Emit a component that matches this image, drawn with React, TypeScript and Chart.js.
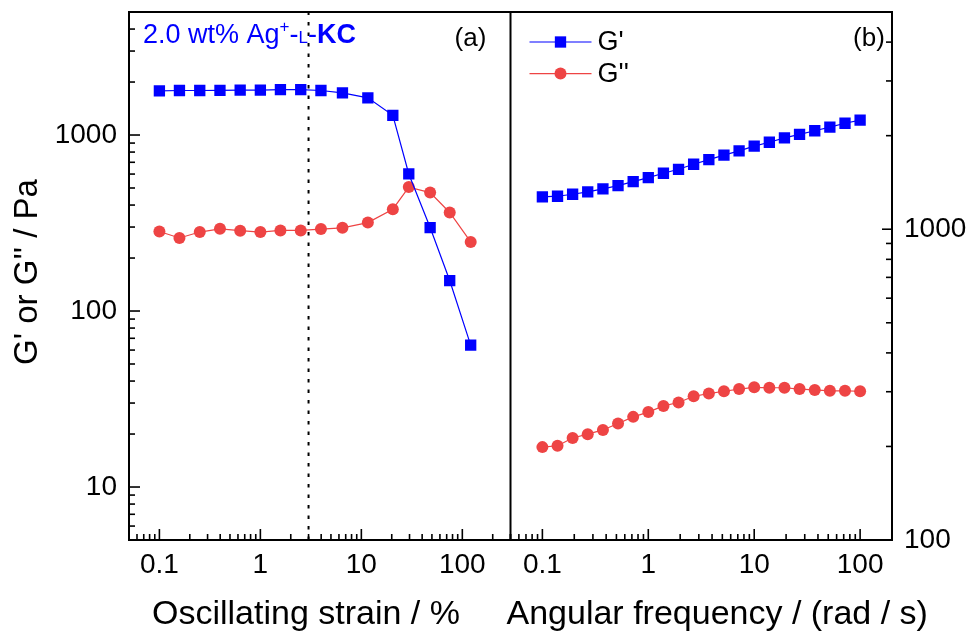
import React, { useEffect, useRef } from 'react';
import { Chart, registerables } from 'chart.js';

Chart.register(...registerables);

// ---------- data ----------
// (a) strain sweep
const strainPct = [0.1, 0.158, 0.251, 0.398, 0.631, 1, 1.58, 2.51, 3.98, 6.5, 11.6, 20.5, 29.5, 48, 75, 121];
const strainGp = [1780, 1790, 1790, 1795, 1800, 1800, 1810, 1810, 1790, 1737, 1626, 1293, 601, 298, 149, 64];
const strainGpp = [283, 260, 281, 293, 286, 281, 287, 287, 292, 297, 318, 379, 506, 471, 363, 247];
const yieldStrainX = [3, 3];
const yieldStrainY = [5, 5000];
// (b) frequency sweep
const freq = [0.1, 0.139, 0.193, 0.268, 0.373, 0.518, 0.72, 1, 1.39, 1.93, 2.68, 3.73, 5.18, 7.2, 10, 13.9, 19.3, 26.8, 37.3, 51.8, 72, 100];
const freqGp = [1270, 1277, 1296, 1318, 1348, 1381, 1423, 1465, 1514, 1559, 1618, 1675, 1731, 1786, 1850, 1905, 1967, 2020, 2074, 2132, 2193, 2245];
const freqGpp = [199, 201, 213, 219, 226, 237, 249, 258, 270, 277, 290, 296, 301, 306, 310, 309, 309, 306, 304, 302, 302, 301];

// ---------- axes / labels ----------
const strainRange = [0.05, 300];
const freqRange = [0.05, 200];
const modLeftRange = [5, 5000];
const modRightRange = [100, 5000];
const strainTickLabels = ['0.1', '1', '10', '100'];
const freqTickLabels = ['0.1', '1', '10', '100'];
const modLeftTickLabels = ['10', '100', '1000'];
const modRightTickLabels = ['100', '1000'];
const xTitleA = 'Oscillating strain / %';
const xTitleB = 'Angular frequency / (rad / s)';
const yTitle = "G' or G'' / Pa";
const panelA = '(a)';
const panelB = '(b)';
const seriesNames = ["G'", "G''"];
const sampleParts = ['2.0 wt% Ag', '+', '-', 'L', '-', 'KC'];

const FF = '"Liberation Sans", Arial, Helvetica, sans-serif';
const BLUE = '#0000FF';
const RED = '#EE4444';

const pts = (xs: number[], ys: number[]) => xs.map((x, i) => ({ x, y: ys[i] }));

function logTicks(min: number, max: number) {
  const out: { value: number }[] = [];
  for (let e = -3; e <= 4; e++) {
    for (let m = 1; m <= 9; m++) {
      const v = parseFloat((m * Math.pow(10, e)).toPrecision(6));
      if (v >= min * (1 - 1e-9) && v <= max * (1 + 1e-9)) out.push({ value: v });
    }
  }
  return out;
}
const isMajor = (v: number) => Math.abs(Math.log10(v) - Math.round(Math.log10(v))) < 1e-6;

const labelFrom = (labels: string[]) => (v: any) => {
  const s = labels.find((l) => Math.abs(parseFloat(l) - Number(v)) < 1e-9 * Math.max(1, Number(v)));
  return s ?? '';
};

const zeroPad = (s: any) => {
  s.paddingTop = 0;
  s.paddingBottom = 0;
  s.paddingLeft = 0;
  s.paddingRight = 0;
};

const decorPlugin = {
  id: 'decor',
  afterDraw(chart: any) {
    const { ctx, chartArea: ca, scales } = chart;
    const xa = scales.xa, xb = scales.xb, ya = scales.ya, yb = scales.yb;
    ctx.save();
    ctx.strokeStyle = '#000';
    // ticks (inward)
    ctx.lineWidth = 1.6;
    const seg = (x1: number, y1: number, x2: number, y2: number) => {
      ctx.beginPath();
      ctx.moveTo(x1, y1);
      ctx.lineTo(x2, y2);
      ctx.stroke();
    };
    for (const s of [xa, xb]) {
      for (const t of s.ticks) {
        const px = s.getPixelForValue(t.value);
        seg(px, ca.bottom, px, ca.bottom - (isMajor(t.value) ? 11 : 6));
      }
    }
    for (const t of ya.ticks) {
      const py = ya.getPixelForValue(t.value);
      seg(ca.left, py, ca.left + (isMajor(t.value) ? 11 : 6), py);
    }
    for (const t of yb.ticks) {
      const py = yb.getPixelForValue(t.value);
      seg(ca.right, py, ca.right - (isMajor(t.value) ? 10 : 6), py);
    }
    // frame + divider
    ctx.lineWidth = 2;
    ctx.strokeRect(ca.left, ca.top, ca.right - ca.left, ca.bottom - ca.top);
    seg(xa.right, ca.top, xa.right, ca.bottom);

    // axis titles
    ctx.fillStyle = '#000';
    ctx.textAlign = 'left';
    ctx.textBaseline = 'alphabetic';
    ctx.font = `34px ${FF}`;
    ctx.fillText(xTitleA, xa.left + 23, ca.bottom + 84);
    ctx.fillText(xTitleB, xb.left - 4, ca.bottom + 84);
    ctx.save();
    ctx.translate(ya.left + 27.5, (ca.top + ca.bottom) / 2 - 4);
    ctx.rotate(-Math.PI / 2);
    ctx.textAlign = 'center';
    ctx.textBaseline = 'middle';
    ctx.font = `33px ${FF}`;
    ctx.fillText(yTitle, 0, 0);
    ctx.restore();

    // panel labels
    ctx.textAlign = 'center';
    ctx.textBaseline = 'middle';
    ctx.font = `26px ${FF}`;
    ctx.fillText(panelA, xa.right - 40, ca.top + 27);
    ctx.fillText(panelB, xb.right - 23, ca.top + 27);

    // sample annotation
    ctx.fillStyle = BLUE;
    ctx.textAlign = 'left';
    ctx.textBaseline = 'alphabetic';
    let x = ca.left + 14;
    const base = ca.top + 31;
    const fonts = [`27px ${FF}`, `17px ${FF}`, `27px ${FF}`, `17px ${FF}`, `27px ${FF}`, `bold 27px ${FF}`];
    const dys = [0, -11, 0, 0, 0, 0];
    sampleParts.forEach((p, i) => {
      ctx.font = fonts[i];
      ctx.fillText(p, x, base + dys[i]);
      x += ctx.measureText(p).width;
    });

    // legend (panel b)
    const legendSets = [chart.data.datasets[3], chart.data.datasets[4]];
    const lx = xb.left + 19;
    legendSets.forEach((ds: any, i: number) => {
      const yy = ca.top + 30 + i * 31.6;
      ctx.strokeStyle = ds.borderColor;
      ctx.lineWidth = 1.2;
      seg(lx, yy, lx + 62, yy);
      ctx.fillStyle = ds.pointBackgroundColor;
      if (ds.pointStyle === 'rect') {
        const h = ds.pointRadius * Math.SQRT1_2;
        ctx.fillRect(lx + 31 - h, yy - h, 2 * h, 2 * h);
      } else {
        ctx.beginPath();
        ctx.arc(lx + 31, yy, ds.pointRadius, 0, Math.PI * 2);
        ctx.fill();
      }
      ctx.fillStyle = '#000';
      ctx.font = `27px ${FF}`;
      ctx.textBaseline = 'middle';
      ctx.fillText(ds.label, lx + 68, yy + 1);
    });
    ctx.restore();
  },
};

export default function App() {
  const ref = useRef<HTMLCanvasElement>(null);
  useEffect(() => {
    document.body.style.margin = '0';
    const common = {
      showLine: true,
      tension: 0,
      borderWidth: 1.2,
      pointBorderWidth: 0,
    };
    const tickFont = { family: FF, size: 28 };
    const chart = new Chart(ref.current as HTMLCanvasElement, {
      type: 'scatter',
      data: {
        datasets: [
          { ...common, label: seriesNames[0], data: pts(strainPct, strainGp), xAxisID: 'xa', yAxisID: 'ya', borderColor: BLUE, backgroundColor: BLUE, pointBackgroundColor: BLUE, pointStyle: 'rect', pointRadius: 8 },
          { ...common, label: seriesNames[1], data: pts(strainPct, strainGpp), xAxisID: 'xa', yAxisID: 'ya', borderColor: RED, backgroundColor: RED, pointBackgroundColor: RED, pointStyle: 'circle', pointRadius: 6 },
          { label: 'yield', data: pts(yieldStrainX, yieldStrainY), xAxisID: 'xa', yAxisID: 'ya', showLine: true, borderColor: '#000', borderWidth: 2, borderDash: [3.5, 7], pointRadius: 0 },
          { ...common, label: seriesNames[0], data: pts(freq, freqGp), xAxisID: 'xb', yAxisID: 'yb', borderColor: BLUE, backgroundColor: BLUE, pointBackgroundColor: BLUE, pointStyle: 'rect', pointRadius: 8 },
          { ...common, label: seriesNames[1], data: pts(freq, freqGpp), xAxisID: 'xb', yAxisID: 'yb', borderColor: RED, backgroundColor: RED, pointBackgroundColor: RED, pointStyle: 'circle', pointRadius: 6 },
        ] as any,
      },
      options: {
        animation: false,
        responsive: true,
        maintainAspectRatio: false,
        layout: { padding: { top: 12, left: 0, right: 0, bottom: 0 } },
        plugins: { legend: { display: false }, tooltip: { enabled: false } },
        scales: {
          xa: {
            type: 'logarithmic', position: 'bottom', stack: 'x', stackWeight: 1,
            min: strainRange[0], max: strainRange[1],
            grid: { display: false, drawTicks: false }, border: { display: false },
            ticks: { autoSkip: false, maxRotation: 0, padding: 8, color: '#000', font: tickFont, callback: labelFrom(strainTickLabels) },
            afterBuildTicks: (s: any) => { s.ticks = logTicks(strainRange[0], strainRange[1]); },
            afterFit: (s: any) => { s.height = 93; zeroPad(s); },
          },
          xb: {
            type: 'logarithmic', position: 'bottom', stack: 'x', stackWeight: 1,
            min: freqRange[0], max: freqRange[1],
            grid: { display: false, drawTicks: false }, border: { display: false },
            ticks: { autoSkip: false, maxRotation: 0, padding: 8, color: '#000', font: tickFont, callback: labelFrom(freqTickLabels) },
            afterBuildTicks: (s: any) => { s.ticks = logTicks(freqRange[0], freqRange[1]); },
            afterFit: (s: any) => { s.height = 93; zeroPad(s); },
          },
          ya: {
            type: 'logarithmic', position: 'left',
            min: modLeftRange[0], max: modLeftRange[1],
            grid: { display: false, drawTicks: false }, border: { display: false },
            ticks: { autoSkip: false, padding: 12, color: '#000', font: tickFont, callback: labelFrom(modLeftTickLabels) },
            afterBuildTicks: (s: any) => { s.ticks = logTicks(modLeftRange[0], modLeftRange[1]); },
            afterFit: (s: any) => { s.width = 129; zeroPad(s); },
          },
          yb: {
            type: 'logarithmic', position: 'right',
            min: modRightRange[0], max: modRightRange[1],
            grid: { display: false, drawTicks: false }, border: { display: false },
            ticks: { autoSkip: false, padding: 12, color: '#000', font: tickFont, callback: labelFrom(modRightTickLabels) },
            afterBuildTicks: (s: any) => { s.ticks = logTicks(modRightRange[0], modRightRange[1]); },
            afterFit: (s: any) => { s.width = 78; zeroPad(s); },
          },
        },
      } as any,
      plugins: [decorPlugin],
    });
    return () => chart.destroy();
  }, []);
  return (
    <div style={{ width: 970, height: 633, position: 'relative', overflow: 'hidden', background: '#fff' }}>
      <canvas ref={ref} />
    </div>
  );
}
